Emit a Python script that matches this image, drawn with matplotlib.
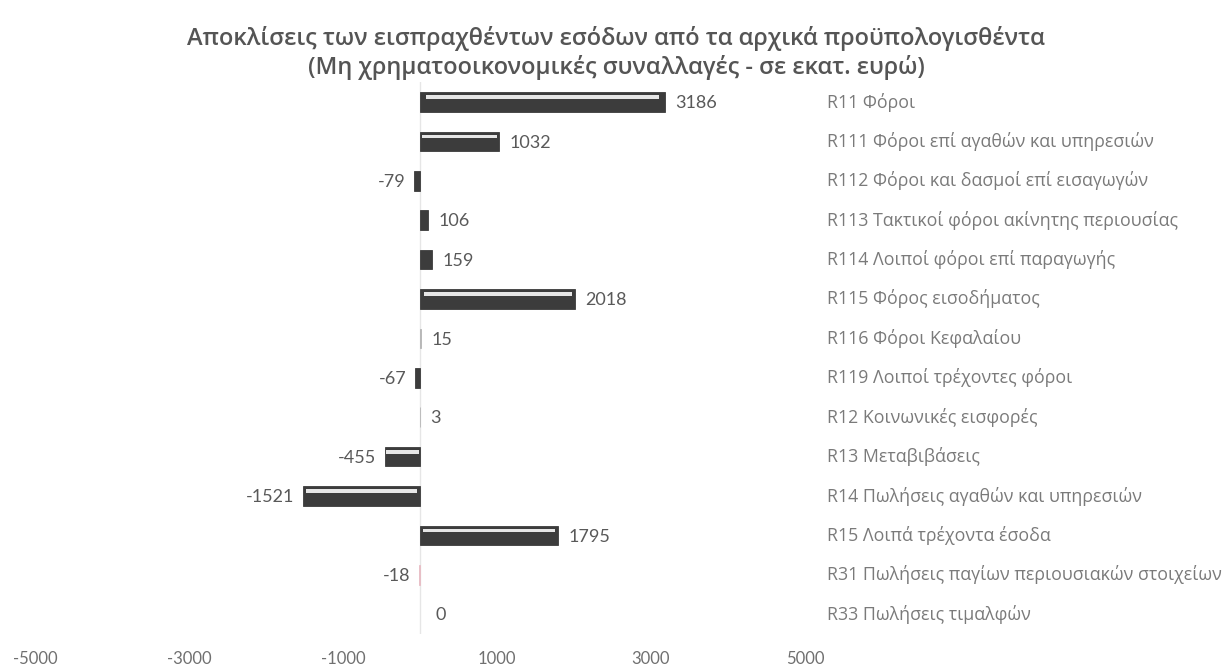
import matplotlib
matplotlib.use("Agg")
import matplotlib.pyplot as plt

categories = [
    "R11 Φόροι",
    "R111 Φόροι επί αγαθών και υπηρεσιών",
    "R112 Φόροι και δασμοί επί εισαγωγών",
    "R113 Τακτικοί φόροι ακίνητης περιουσίας",
    "R114 Λοιποί φόροι επί παραγωγής",
    "R115 Φόρος εισοδήματος",
    "R116 Φόροι Κεφαλαίου",
    "R119 Λοιποί τρέχοντες φόροι",
    "R12 Κοινωνικές εισφορές",
    "R13 Μεταβιβάσεις",
    "R14 Πωλήσεις αγαθών και υπηρεσιών",
    "R15 Λοιπά τρέχοντα έσοδα",
    "R31 Πωλήσεις παγίων περιουσιακών στοιχείων",
    "R33 Πωλήσεις τιμαλφών",
]
values = [3186, 1032, -79, 106, 159, 2018, 15, -67, 3, -455, -1521, 1795, -18, 0]
tick_values = [-5000, -3000, -1000, 1000, 3000, 5000]
title = ("Αποκλίσεις των εισπραχθέντων εσόδων από τα αρχικά προϋπολογισθέντα\n"
         "(Μη χρηματοοικονομικές συναλλαγές - σε εκατ. ευρώ)")

W, H = 1232, 671
fig = plt.figure(figsize=(W / 100, H / 100), dpi=100)
fig.patch.set_facecolor("white")

left_px, right_px = 35, 805
n = len(categories)
row0, step = 102, 39.4
top_px = row0 - step / 2
bot_px = row0 + step * (n - 1) + step / 2
ax = fig.add_axes([left_px / W, 1 - bot_px / H, (right_px - left_px) / W, (bot_px - top_px) / H])
ax.set_xlim(-5000, 5000)
ax.set_ylim(n - 0.5, -0.5)
for s in ax.spines.values():
    s.set_visible(False)
ax.set_yticks([])
ax.set_xticks(tick_values)
ax.set_xticklabels([str(t) for t in tick_values], fontsize=12, color="#707070", family="Lato")
ax.tick_params(axis="x", length=0, pad=12)

ax.axvline(0, color="#e6e6e6", lw=1, zorder=0)

for y, v in enumerate(values):
    if v != 0:
        if v == -18:
            c = "#e8bcc4"
        elif abs(v) < 20:
            c = "#b5b5b5"
        else:
            c = "#3c3c3c"
        ax.barh(y, v, height=0.5, color=c, edgecolor=c, linewidth=0.6, zorder=2)
        if abs(v) > 300:
            inset = 0.025 * abs(v)
            sgn = 1 if v > 0 else -1
            ax.barh(y - 0.12, v - sgn * 2 * inset, left=sgn * inset,
                    height=0.09, color="#e6e6e6", linewidth=0, zorder=3)
    if v >= 0:
        ax.text(v + (130 if v else 200), y + 0.03, f"{v}", ha="left", va="center",
                fontsize=13, color="#595959", family="Lato")
    else:
        ax.text(v - 110, y + 0.03, f"{v}", ha="right", va="center",
                fontsize=13, color="#595959", family="Lato")
    ax.text((827 - left_px) / (right_px - left_px), y, categories[y],
            transform=ax.get_yaxis_transform(), ha="left", va="center",
            fontsize=12.8, color="#7a7a7a", family="Open Sans")

fig.text(616 / W, 1 - 53 / H, title, ha="center", va="center", fontsize=17,
         color="#555555", family="Open Sans", fontweight="semibold", linespacing=1.25)

fig.savefig("out.png", dpi=100, facecolor="white")
